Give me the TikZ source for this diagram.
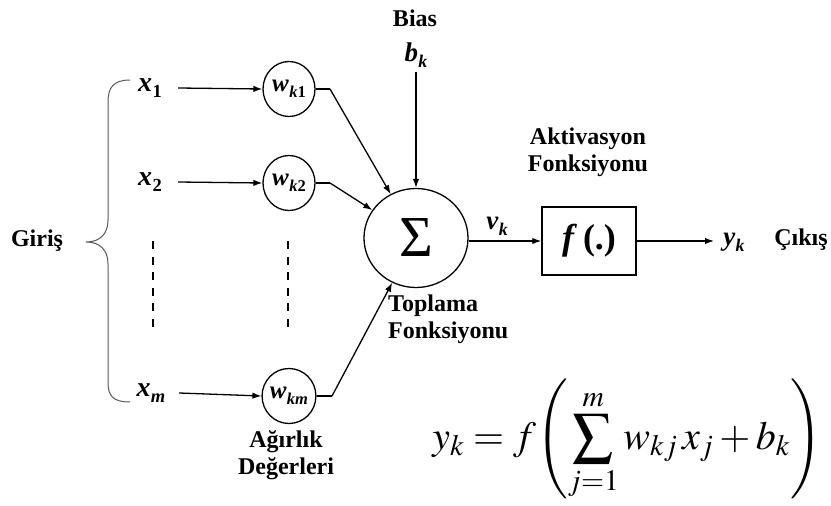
\documentclass[tikz,border=0pt]{standalone}
\usepackage{mathptmx}
\usepackage[no-math]{fontspec}
\setmainfont{Liberation Serif}
\usetikzlibrary{arrows.meta,shapes.geometric}
\newdimen\subsz
\makeatletter
\newcommand{\lbl}[2]{\textbf{\textit{#1}}\subsz=\f@size pt\subsz=0.66\subsz\kern0.01em\raisebox{-0.22em}{\fontsize{\the\subsz}{\the\subsz}\selectfont\bfseries #2}}
\makeatother
\tikzset{
  txt/.style={font=\fontsize{24}{27}\selectfont\bfseries, align=center, inner sep=0pt},
  xlab/.style={font=\fontsize{28}{30}\selectfont, inner sep=0pt, minimum width=56pt},
  vlab/.style={font=\fontsize{27}{30}\selectfont, inner sep=0pt},
  wnode/.style={draw, ellipse, line width=1.3pt, minimum width=52pt, minimum height=55pt, inner sep=0pt, font=\fontsize{25}{26}\selectfont},
  arr/.style={line width=1.3pt, -{Latex[length=9pt,width=6.5pt]}},
  ln/.style={line width=1.3pt},
  dsh/.style={line width=2.4pt, dash pattern=on 8pt off 7.6pt},
  brace/.style={line width=1pt, draw=black!65}
}
\begin{document}
\begin{tikzpicture}[x=1pt,y=-1pt]
\useasboundingbox (0,0) rectangle (831,506);
% inputs
\node[xlab] (x1) at (150,88) {\lbl{x}{1}};
\node[xlab] (x2) at (150,182) {\lbl{x}{2}};
\node[xlab] (xm) at (151,393) {\lbl{x}{\textit{m}}};
% weights
\node[wnode] (wk1) at (289,89) {\lbl{w}{\textit{k}1}};
\node[wnode] (wk2) at (289,183) {\lbl{w}{\textit{k}2}};
\node[wnode] (wkm) at (289,396) {\lbl{w}{\textit{km}}};
\draw[arr] (x1.east) -- (wk1.west);
\draw[arr] (x2.east) -- (wk2.west);
\draw[arr] (xm.east) -- (wkm.west);
% dashed
\coordinate (d1a) at (153,241); \coordinate (d1b) at (153,330);
\coordinate (d2a) at (288,241); \coordinate (d2b) at (288,330);
\draw[dsh] (d1a) -- (d1b);
\draw[dsh] (d2a) -- (d2b);
% brace
\coordinate (brt) at (130,80);
\coordinate (brm) at (86,242);
\coordinate (brb) at (130,402);
\draw[brace] (brt) .. controls (113,80) and (108,88) .. (108,102) -- (108,220) .. controls (108,234) and (100,242) .. (brm) .. controls (100,242) and (108,250) .. (108,264) -- (108,382) .. controls (108,396) and (113,402) .. (brb);
\node[txt] (giris) at (37,241) {Giriş};
% summation
\node[draw, ellipse, line width=1.3pt, minimum width=104pt, minimum height=99pt, inner sep=0pt, font=\fontsize{58}{58}\selectfont] (sig) at (416,238) {Σ};
\coordinate (b1) at (330,89);
\coordinate (b2) at (330,183);
\coordinate (b3) at (332,396);
\draw[ln] (wk1.east) -- (b1);
\draw[ln] (wk2.east) -- (b2);
\draw[ln] (wkm.east) -- (b3);
\draw[arr] (b1) -- (sig);
\draw[arr] (b2) -- (sig);
\draw[arr] (b3) -- (sig);
% bias
\node[txt] (bias) at (415,18) {Bias};
\node[vlab, inner sep=4pt] (bk) at (416,55) {\lbl{b}{\textit{k}}};
\draw[arr] (bk.south) -- (sig);
% activation
\node[draw, line width=1.5pt, minimum width=94pt, minimum height=68pt, inner sep=0pt, font=\fontsize{36}{36}\selectfont] (fbox) at (589,241) {\textbf{\textit{f}}\,\textbf{(.)}};
\draw[arr] (sig.east |- fbox.west) -- (fbox.west);
\node[vlab] (vk) at (497,226) {\lbl{v}{\textit{k}}};
\node[txt] (akt) at (588,152) {Aktivasyon\\Fonksiyonu};
\coordinate (yend) at (714,241);
\draw[arr] (fbox.east) -- (yend);
\node[vlab] (yk) at (734,242) {\lbl{y}{\textit{k}}};
\node[txt] (cikis) at (801,240) {Çıkış};
% labels
\node[txt, align=left, anchor=north west] (topl) at (388,295) {Toplama\\Fonksiyonu};
\node[txt] (agr) at (286,455) {Ağırlık\\Değerleri};
% formula
\node[inner sep=0pt, font=\fontsize{40}{48}\selectfont] (form) at (627,440) {$\displaystyle y_k = f\!\left(\sum_{j=1}^{m} w_{kj}\,x_j + b_k\right)$};
\end{tikzpicture}
\end{document}
